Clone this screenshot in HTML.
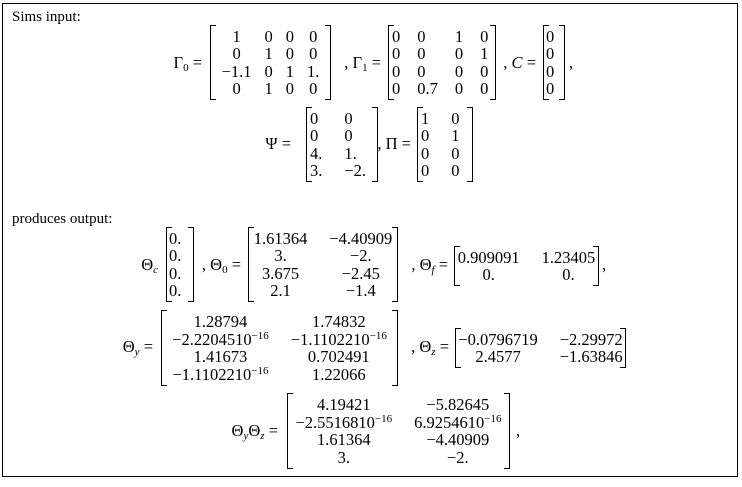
<!DOCTYPE html>
<html><head><meta charset="utf-8"><style>
body{margin:0;width:742px;height:487px;background:#fff;position:relative;overflow:hidden;font-family:"Liberation Serif","DejaVu Serif",serif;font-size:16.5px;color:#000}
.box{position:absolute;left:2px;top:3px;width:734px;height:472px;border:1.5px solid #000}
.tx{position:absolute;white-space:nowrap;line-height:18px}
.m{position:absolute;display:flex;align-items:center;justify-content:center}
.m::before,.m::after{content:"";position:absolute;top:0;bottom:0;width:5px;border-top:1px solid #000;border-bottom:1px solid #000}
.m::before{left:0;border-left:1px solid #000}
.m::after{right:0;border-right:1px solid #000}
.m table{border-collapse:collapse}
.m td{text-align:center;padding:0;line-height:17.5px;white-space:nowrap}
.m td+td{padding-left:22px}
.m.n td+td{padding-left:13px}
.m.g td+td{padding-left:17px}
.m.l{justify-content:flex-start;padding-left:4px}
.m.l td{text-align:left}
sub{font-size:11px;vertical-align:-3px;line-height:0}
sup{font-size:11px;vertical-align:6px;line-height:0}
i{font-style:italic}
</style></head><body>
<div class="box"></div>
<div class="tx" style="left:12px;top:8px;font-size:15px">Sims input:</div>

<div class="tx" style="right:540px;top:54px">Γ<sub>0</sub> =</div>
<div class="m n" style="left:210px;top:25px;width:121px;height:75px"><table>
<tr><td>1</td><td>0</td><td>0</td><td>0</td></tr>
<tr><td>0</td><td>1</td><td>0</td><td>0</td></tr>
<tr><td>−1.1</td><td>0</td><td>1</td><td>1.</td></tr>
<tr><td>0</td><td>1</td><td>0</td><td>0</td></tr></table></div>
<div class="tx" style="right:361px;top:54px">, Γ<sub>1</sub> =</div>
<div class="m l g" style="left:388px;top:25px;width:104px;height:75px"><table>
<tr><td>0</td><td>0</td><td>1</td><td>0</td></tr>
<tr><td>0</td><td>0</td><td>0</td><td>1</td></tr>
<tr><td>0</td><td>0</td><td>0</td><td>0</td></tr>
<tr><td>0</td><td>0.7</td><td>0</td><td>0</td></tr></table></div>
<div class="tx" style="right:206px;top:54px">, <i>C</i> =</div>
<div class="m l" style="left:543px;top:25px;width:19px;height:75px;padding-left:3px"><table>
<tr><td>0</td></tr><tr><td>0</td></tr><tr><td>0</td></tr><tr><td>0</td></tr></table></div>
<div class="tx" style="left:569px;top:54px">,</div>

<div class="tx" style="right:451px;top:135px">Ψ =</div>
<div class="m l" style="left:306px;top:107px;width:68px;height:75px"><table>
<tr><td>0</td><td>0</td></tr><tr><td>0</td><td>0</td></tr><tr><td>4.</td><td>1.</td></tr><tr><td>3.</td><td>−2.</td></tr></table></div>
<div class="tx" style="right:331px;top:135px">, Π =</div>
<div class="m l" style="left:417px;top:107px;width:52px;height:75px"><table>
<tr><td>1</td><td>0</td></tr><tr><td>0</td><td>1</td></tr><tr><td>0</td><td>0</td></tr><tr><td>0</td><td>0</td></tr></table></div>

<div class="tx" style="left:12px;top:210px;font-size:15px">produces output:</div>

<div class="tx" style="right:584px;top:256px">Θ<sub><i>c</i></sub></div>
<div class="m l" style="left:166px;top:227px;width:25px;height:75px;padding-left:3px"><table>
<tr><td>0.</td></tr><tr><td>0.</td></tr><tr><td>0.</td></tr><tr><td>0.</td></tr></table></div>
<div class="tx" style="right:501px;top:256px">, Θ<sub>0</sub> =</div>
<div class="m" style="left:248px;top:227px;width:150px;height:75px"><table>
<tr><td>1.61364</td><td>−4.40909</td></tr><tr><td>3.</td><td>−2.</td></tr><tr><td>3.675</td><td>−2.45</td></tr><tr><td>2.1</td><td>−1.4</td></tr></table></div>
<div class="tx" style="right:294px;top:256px">, Θ<sub><i>f</i></sub> =</div>
<div class="m" style="left:454px;top:246px;width:145px;height:40px"><table>
<tr><td>0.909091</td><td>1.23405</td></tr><tr><td>0.</td><td>0.</td></tr></table></div>
<div class="tx" style="left:602px;top:256px">,</div>

<div class="tx" style="right:589px;top:338px">Θ<sub><i>y</i></sub> =</div>
<div class="m" style="left:161px;top:310px;width:237px;height:76px"><table>
<tr><td>1.28794</td><td>1.74832</td></tr>
<tr><td>−2.2204510<sup>−16</sup></td><td>−1.1102210<sup>−16</sup></td></tr>
<tr><td>1.41673</td><td>0.702491</td></tr>
<tr><td>−1.1102210<sup>−16</sup></td><td>1.22066</td></tr></table></div>
<div class="tx" style="right:293px;top:338px">, Θ<sub><i>z</i></sub> =</div>
<div class="m" style="left:455px;top:328px;width:171px;height:40px"><table>
<tr><td>−0.0796719</td><td>−2.29972</td></tr><tr><td>2.4577</td><td>−1.63846</td></tr></table></div>

<div class="tx" style="right:464px;top:422px">Θ<sub><i>y</i></sub>Θ<sub><i>z</i></sub> =</div>
<div class="m" style="left:287px;top:393px;width:223px;height:76px"><table>
<tr><td>4.19421</td><td>−5.82645</td></tr>
<tr><td>−2.5516810<sup>−16</sup></td><td>6.9254610<sup>−16</sup></td></tr>
<tr><td>1.61364</td><td>−4.40909</td></tr>
<tr><td>3.</td><td>−2.</td></tr></table></div>
<div class="tx" style="left:516px;top:422px">,</div>
</body></html>
